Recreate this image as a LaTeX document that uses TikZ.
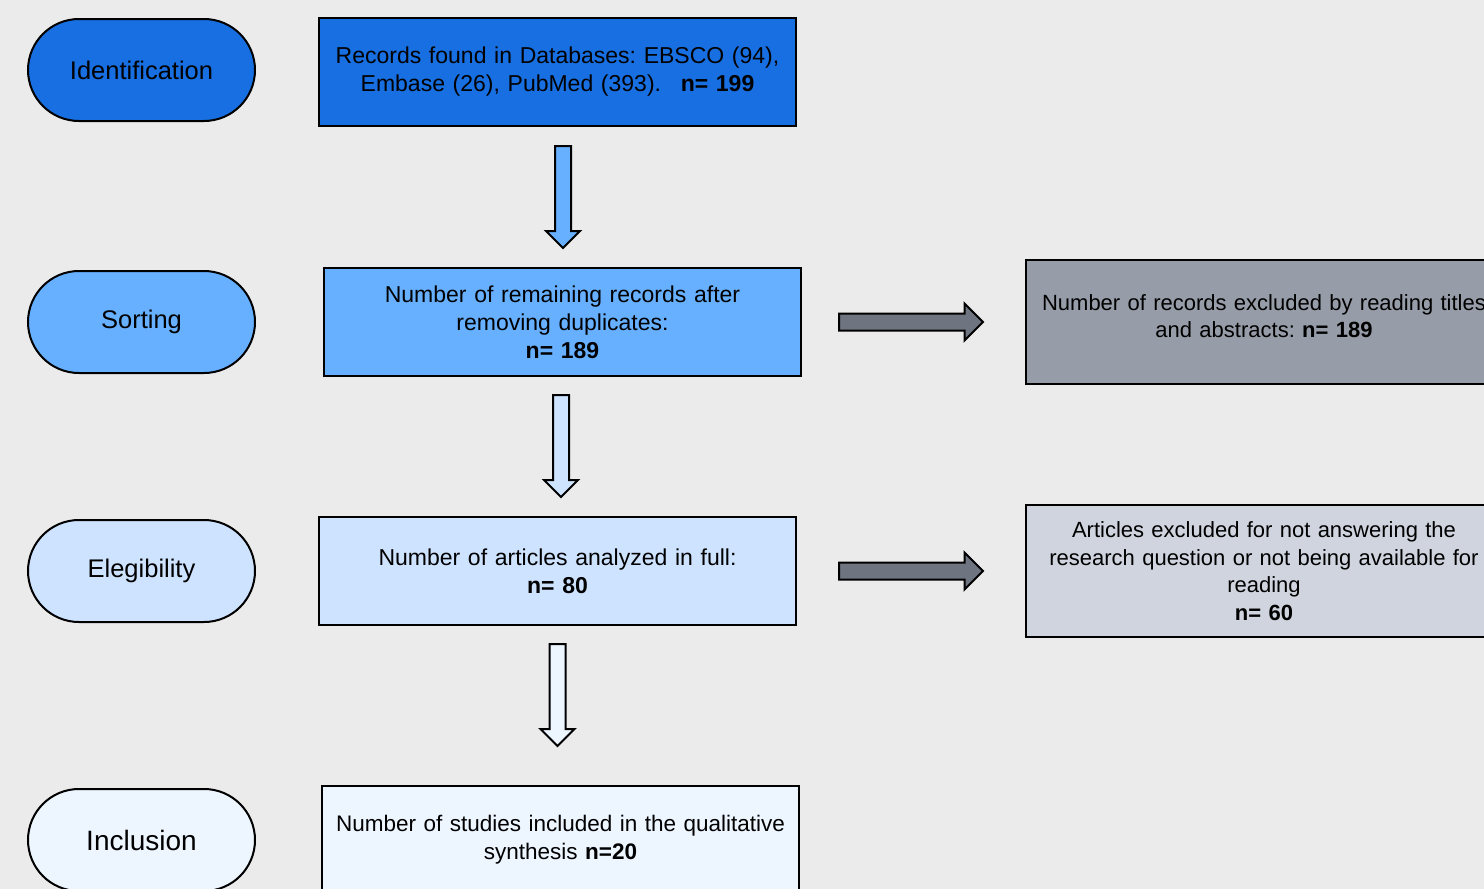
\documentclass[tikz,border=0pt]{standalone}
\usepackage{fontspec}
\setmainfont{Liberation Sans}
\frenchspacing
\usetikzlibrary{positioning, calc, shapes.arrows}
\definecolor{bggray}{RGB}{235,235,235}
\definecolor{idblue}{RGB}{24,111,226}
\definecolor{sortblue}{RGB}{102,176,255}
\definecolor{eligblue}{RGB}{206,227,255}
\definecolor{inclblue}{RGB}{237,245,255}
\definecolor{greydark}{RGB}{151,157,168}
\definecolor{greylight}{RGB}{207,212,222}
\definecolor{arrowgray}{RGB}{110,116,128}

\begin{document}
\begin{tikzpicture}[
        x=1pt, y=-1pt,
        stage/.style={rectangle, rounded corners=51pt, draw=black, line width=2pt, minimum width=227pt, minimum height=102pt, font=\fontsize{25.5}{30}\selectfont},
        box/.style={rectangle, draw=black, line width=2pt, minimum width=477pt, minimum height=108pt, text width=462pt, inner sep=4pt, align=center, font=\fontsize{23}{28}\selectfont},
        excl/.style={box, minimum width=476pt, text width=466pt, font=\fontsize{22}{27.5}\selectfont},
        downarrow/.style={single arrow, draw=black, line width=2pt, shape border rotate=270, inner sep=7pt, single arrow head extend=9pt, minimum height=102pt, anchor=tail},
        rightarrow/.style={single arrow, draw=black, line width=2pt, fill=arrowgray, inner sep=7.5pt, single arrow head extend=10pt, minimum height=144pt, anchor=tail},
    ]

    % ===== Canvas =====
    \useasboundingbox (0,0) rectangle (1484,889);
    \clip (0,0) rectangle (1484,889);
    \fill[bggray] (0,0) rectangle (1484,889);

    % ===== Stages =====
    \node[stage, fill=idblue] (ident) at (141.5,70) {Identification};
    \node[stage, fill=sortblue] (sort) at (141.5,322) {Sorting};
    \node[stage, fill=eligblue] (elig) at (141.5,571) {Elegibility};
    \node[stage, fill=inclblue, font=\fontsize{28}{32}\selectfont] (incl) at (141.5,840) {Inclusion};

    % ===== Main column =====
    \node[box, fill=idblue, right=62pt of ident, yshift=-2pt] (rec)
        {Records found in Databases: EBSCO (94),\\Embase (26), PubMed (393).\hspace{12pt} \textbf{n= 199}};
    \node[box, fill=sortblue, right=67pt of sort] (dup)
        {Number of remaining records after\\removing duplicates:\\\textbf{n= 189}};
    \node[box, fill=eligblue, right=62pt of elig] (full)
        {Number of articles analyzed in full:\\\textbf{n= 80}};
    \node[box, fill=inclblue, right=65pt of incl, font=\fontsize{22.5}{28}\selectfont] (synth)
        {Number of studies included in the qualitative\\synthesis \textbf{n=20}};

    % ===== Exclusions =====
    \node[excl, fill=greydark, minimum height=124pt, text depth=39pt, right=223pt of dup] (titles)
        {Number of records excluded by reading titles\\and abstracts: \textbf{n= 189}};
    \node[excl, fill=greylight, minimum height=132pt, right=228pt of full] (notans)
        {Articles excluded for not answering the\\research question or not being available for\\reading\\\textbf{n= 60}};

    % ===== Arrows =====
    \node[downarrow, fill=sortblue] (a1) at ($(rec.south)+(5.5,18)$) {};
    \node[downarrow, fill=eligblue] (a2) at ($(dup.south)+(-1.5,17)$) {};
    \node[downarrow, fill=inclblue] (a3) at ($(full.south)+(0,17)$) {};
    \node[rightarrow] (r1) at ($(dup.east)+(36,0)$) {};
    \node[rightarrow] (r2) at ($(full.east)+(41,0)$) {};

    \end{tikzpicture}
\end{document}
